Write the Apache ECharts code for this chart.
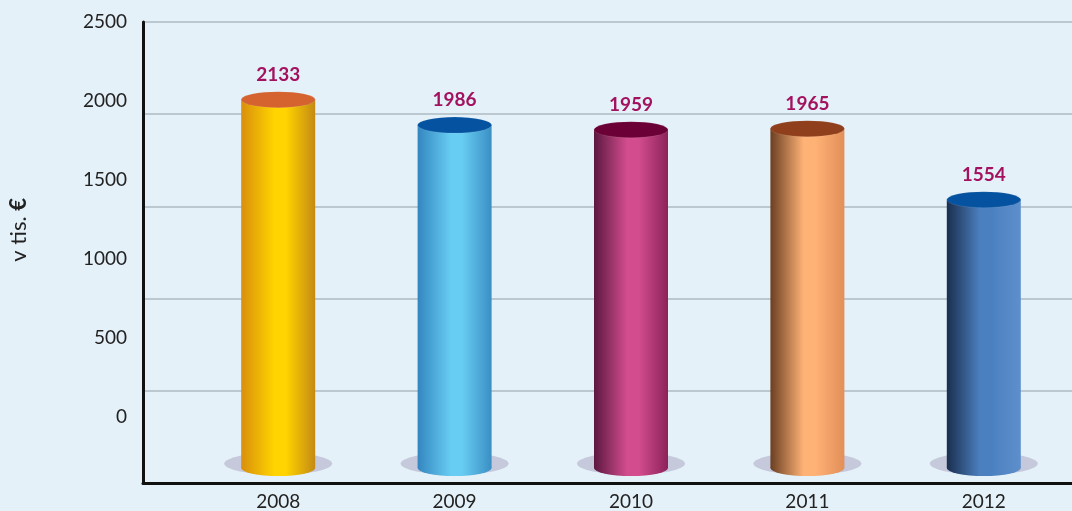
<!DOCTYPE html>
<html>
<head>
<meta charset="utf-8">
<script src="https://cdn.jsdelivr.net/npm/echarts@6/dist/echarts.min.js"></script>
<style>
  html, body { margin: 0; padding: 0; background: #e5f1f9; }
  #chart { width: 1072px; height: 511px; }
</style>
</head>
<body>
<div id="chart"></div>
<script>
// data
var years = ['2008', '2009', '2010', '2011', '2012'];
var values = [2133, 1986, 1959, 1965, 1554];
var tickMin = 0, tickMax = 2500, tickStep = 500;

// per-bar colours: [left edge, middle, right edge], cap colour
var bodyColors = [
    ['#d98f0c', '#ffd400', '#c48a14'],
    ['#3386c0', '#68cdf2', '#3a8fc4'],
    ['#5c1840', '#d34d8e', '#8c2259'],
    ['#6a3f22', '#ffb276', '#e28f58'],
    ['#1a2e4e', '#4b80c0', '#5d8fcb']
];
var capColors = ['#d4632f', '#0553a0', '#6b0036', '#8f3f1b', '#0553a0'];

var font = 'Lato';
var myChart = echarts.init(document.getElementById('chart'));

function grad(c) {
    return new echarts.graphic.LinearGradient(0, 0, 1, 0, [
        { offset: 0, color: c[0] },
        { offset: 0.45, color: c[1] },
        { offset: 0.6, color: c[1] },
        { offset: 1, color: c[2] }
    ]);
}

var bodyData = values.map(function (v, i) {
    return { value: v, itemStyle: { color: grad(bodyColors[i]) } };
});
var capData = values.map(function (v, i) {
    return { value: v, itemStyle: { color: capColors[i], borderColor: '#f4e8ee', borderWidth: 1 } };
});
var bottomData = values.map(function (v, i) {
    return { value: v, itemStyle: { color: grad(bodyColors[i]) } };
});

var option = {
    backgroundColor: '#e5f1f9',
    animation: false,
    grid: [
        // frame + grid lines
        { left: 143, right: 0, top: 22, bottom: 28 },
        // tick labels
        { left: 143, right: 0, top: 22, bottom: 94 },
        // bars
        { left: 190, right: 0, top: 36, bottom: 41 }
    ],
    xAxis: [
        { gridIndex: 0, type: 'value', min: 0, max: 1, axisLine: { show: true, lineStyle: { color: '#111', width: 3 } },
          axisTick: { show: false }, axisLabel: { show: false }, splitLine: { show: false } },
        { gridIndex: 1, type: 'value', min: 0, max: 1, show: false },
        { gridIndex: 2, type: 'category', data: years, axisLine: { show: false }, axisTick: { show: false },
          axisLabel: { color: '#222', fontSize: 19, fontFamily: font, margin: 24 } }
    ],
    yAxis: [
        { gridIndex: 0, type: 'value', min: 0, max: 5, interval: 1,
          axisLine: { show: true, lineStyle: { color: '#111', width: 3 } },
          axisTick: { show: false }, axisLabel: { show: false },
          splitLine: { show: true, lineStyle: { color: '#bcc8d0', width: 2 } } },
        { gridIndex: 1, type: 'value', min: tickMin, max: tickMax, interval: tickStep,
          axisLine: { show: false }, axisTick: { show: false }, splitLine: { show: false },
          axisLabel: { color: '#222', fontSize: 19, fontFamily: font, margin: 16,
                       formatter: function (v) { return String(v); } } },
        { gridIndex: 2, type: 'value', min: tickMin, max: tickMax, show: false }
    ],
    graphic: [{
        type: 'text',
        left: 8,
        top: 198,
        rotation: Math.PI / 2,
        style: {
            text: '{a|v tis. }{b|€}',
            rich: {
                a: { fontSize: 22, fontFamily: font, fill: '#222' },
                b: { fontSize: 22, fontFamily: font, fill: '#222', fontWeight: 'bold' }
            }
        }
    }],
    series: [
        {   // floor shadow
            type: 'pictorialBar', xAxisIndex: 2, yAxisIndex: 2, symbol: 'circle',
            symbolSize: [108, 22], symbolPosition: 'start', symbolOffset: [0, '30%'], z: 1,
            itemStyle: { color: 'rgba(160,150,185,0.45)' },
            data: values
        },
        {   // body
            type: 'bar', xAxisIndex: 2, yAxisIndex: 2, barWidth: 74, z: 2,
            label: { show: true, position: 'top', distance: 15, color: '#a3125f', fontSize: 19,
                     fontWeight: 'bold', fontFamily: font },
            data: bodyData
        },
        {   // rounded bottom
            type: 'pictorialBar', xAxisIndex: 2, yAxisIndex: 2, symbol: 'circle',
            symbolSize: [74, 16], symbolPosition: 'start', symbolOffset: [0, '50%'], z: 2,
            data: bottomData
        },
        {   // top cap
            type: 'pictorialBar', xAxisIndex: 2, yAxisIndex: 2, symbol: 'circle',
            symbolSize: [74, 16], symbolPosition: 'end', symbolOffset: [0, '-50%'], z: 3,
            data: capData
        }
    ]
};

myChart.setOption(option);
</script>
</body>
</html>
